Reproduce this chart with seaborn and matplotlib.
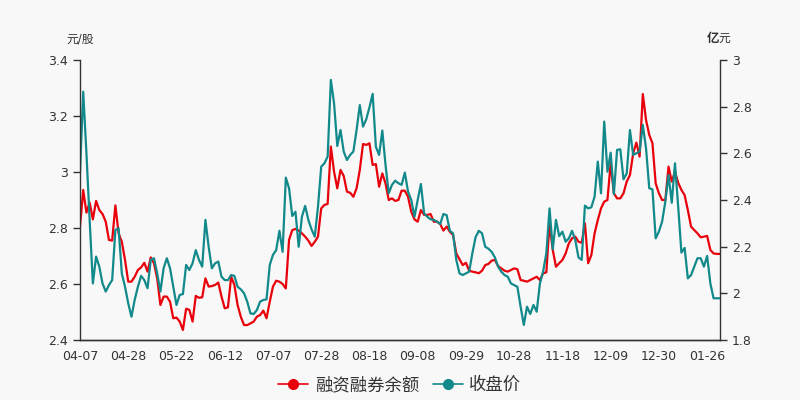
import matplotlib
matplotlib.use("Agg")
import matplotlib.pyplot as plt
from matplotlib.lines import Line2D
import numpy as np
import pandas as pd
import seaborn as sns

# x tick labels (every 15 trading days)
date_ticks = ['04-07', '04-28', '05-22', '06-12', '07-07', '07-28', '08-18',
              '09-08', '09-29', '10-28', '11-18', '12-09', '12-30', '01-26']

# 收盘价 (元/股)
close_price = [
    2.995, 3.287, 3.067, 2.829, 2.602, 2.698, 2.662, 2.602, 2.573, 2.596,
    2.614, 2.793, 2.799, 2.638, 2.59, 2.531, 2.483, 2.543, 2.59, 2.629,
    2.614, 2.585, 2.686, 2.692, 2.638, 2.573, 2.656, 2.692, 2.656, 2.59,
    2.525, 2.561, 2.564, 2.668, 2.65, 2.674, 2.721, 2.686, 2.662, 2.829,
    2.733, 2.656, 2.674, 2.68, 2.626, 2.614, 2.614, 2.632, 2.629, 2.59,
    2.581, 2.567, 2.537, 2.495, 2.493, 2.507, 2.537, 2.543, 2.545, 2.668,
    2.704, 2.721, 2.79, 2.715, 2.98, 2.942, 2.843, 2.858, 2.733, 2.84,
    2.879, 2.829, 2.795, 2.769, 2.876, 3.019, 3.031, 3.055, 3.329, 3.245,
    3.093, 3.15, 3.073, 3.043, 3.061, 3.073, 3.15, 3.239, 3.162, 3.188,
    3.231, 3.279, 3.09, 3.061, 3.148, 3.025, 2.924, 2.954, 2.969, 2.96,
    2.954, 2.998, 2.93, 2.90, 2.84, 2.90, 2.957, 2.852, 2.84, 2.831,
    2.829, 2.823, 2.814, 2.85, 2.846, 2.79, 2.781, 2.686, 2.638, 2.632,
    2.638, 2.644, 2.71, 2.767, 2.79, 2.781, 2.733, 2.726, 2.715, 2.695,
    2.662, 2.644, 2.632, 2.626, 2.602, 2.596, 2.59, 2.519, 2.454, 2.519,
    2.493, 2.525, 2.501, 2.602, 2.644, 2.71, 2.87, 2.724, 2.829, 2.771,
    2.787, 2.751, 2.763, 2.79, 2.757, 2.695, 2.686, 2.88, 2.87, 2.874,
    2.912, 3.037, 2.924, 3.18, 3.001, 3.069, 2.921, 3.079, 3.081, 2.974,
    2.995, 3.15, 3.061, 3.067, 3.073, 3.168, 3.085, 2.942, 2.938, 2.763,
    2.787, 2.823, 2.894, 2.989, 2.89, 3.031, 2.876, 2.712, 2.729, 2.62,
    2.632, 2.662, 2.692, 2.692, 2.662, 2.70, 2.602, 2.549, 2.549, 2.549,
]

# 融资融券余额 (亿元)
margin_balance = [
    2.286, 2.443, 2.346, 2.389, 2.317, 2.396, 2.357, 2.34, 2.307, 2.229,
    2.226, 2.377, 2.257, 2.221, 2.143, 2.05, 2.05, 2.071, 2.10, 2.111,
    2.131, 2.093, 2.154, 2.129, 2.064, 1.95, 1.986, 1.986, 1.964, 1.893,
    1.896, 1.879, 1.843, 1.934, 1.929, 1.879, 1.989, 1.981, 1.983, 2.064,
    2.029, 2.031, 2.036, 2.046, 1.986, 1.936, 1.94, 2.071, 2.036, 1.95,
    1.90, 1.864, 1.864, 1.871, 1.879, 1.90, 1.907, 1.926, 1.893, 1.964,
    2.029, 2.054, 2.05, 2.04, 2.021, 2.229, 2.271, 2.276, 2.269, 2.257,
    2.243, 2.226, 2.203, 2.221, 2.243, 2.364, 2.379, 2.383, 2.629, 2.521,
    2.45, 2.529, 2.503, 2.436, 2.431, 2.414, 2.45, 2.529, 2.64, 2.636,
    2.643, 2.55, 2.554, 2.457, 2.514, 2.471, 2.40, 2.407, 2.396, 2.40,
    2.44, 2.44, 2.414, 2.35, 2.317, 2.307, 2.357, 2.336, 2.336, 2.34,
    2.307, 2.307, 2.297, 2.269, 2.286, 2.264, 2.25, 2.171, 2.146, 2.121,
    2.131, 2.097, 2.093, 2.09, 2.086, 2.097, 2.121, 2.126, 2.14, 2.143,
    2.117, 2.107, 2.097, 2.093, 2.10, 2.107, 2.103, 2.057, 2.054, 2.05,
    2.057, 2.064, 2.071, 2.057, 2.086, 2.09, 2.30, 2.186, 2.114, 2.129,
    2.143, 2.171, 2.214, 2.236, 2.243, 2.221, 2.217, 2.30, 2.129, 2.164,
    2.257, 2.314, 2.364, 2.393, 2.40, 2.557, 2.429, 2.407, 2.407, 2.429,
    2.479, 2.507, 2.60, 2.646, 2.586, 2.854, 2.743, 2.679, 2.643, 2.471,
    2.429, 2.40, 2.40, 2.543, 2.479, 2.521, 2.474, 2.443, 2.421, 2.357,
    2.286, 2.271, 2.257, 2.24, 2.243, 2.246, 2.186, 2.171, 2.169, 2.169,
]

left_ticks = [2.4, 2.6, 2.8, 3.0, 3.2, 3.4]
left_labels = ['2.4', '2.6', '2.8', '3', '3.2', '3.4']
right_ticks = [1.8, 2.0, 2.2, 2.4, 2.6, 2.8, 3.0]
right_labels = ['1.8', '2', '2.2', '2.4', '2.6', '2.8', '3']

RED = '#e8000b'
TEAL = '#12898a'
BG = '#f8f8f8'
AX = '#333333'

sns.set_style("white")
plt.rcParams['font.family'] = ['DejaVu Sans', 'Noto Sans CJK SC']
plt.rcParams['axes.unicode_minus'] = False

df = pd.DataFrame({'idx': np.arange(len(close_price)),
                   'close': close_price,
                   'margin': margin_balance})

fig = plt.figure(figsize=(8, 4), dpi=100, facecolor=BG)
ax = fig.add_axes([0.1, 0.15, 0.8, 0.7])
ax.set_facecolor(BG)
ax2 = ax.twinx()

sns.lineplot(data=df, x='idx', y='close', ax=ax, color=TEAL, linewidth=1.6)
sns.lineplot(data=df, x='idx', y='margin', ax=ax2, color=RED, linewidth=1.6)

ax.set_xlim(0, len(close_price) - 1)
ax.set_ylim(2.4, 3.4)
ax2.set_ylim(1.8, 3.0)
ax.set_xticks(range(0, 15 * len(date_ticks), 15))
ax.set_xticklabels(date_ticks)
ax.set_yticks(left_ticks)
ax.set_yticklabels(left_labels)
ax2.set_yticks(right_ticks)
ax2.set_yticklabels(right_labels)
ax.set_xlabel('')
ax.set_ylabel('')
ax2.set_ylabel('')

for a in (ax, ax2):
    a.spines['top'].set_visible(False)
    for s in ('left', 'right', 'bottom'):
        a.spines[s].set_color(AX)
        a.spines[s].set_linewidth(1.0)
    a.tick_params(axis='both', length=5, width=1, color=AX,
                  labelcolor=AX, labelsize=9, direction='out')
ax.spines['right'].set_visible(False)
ax2.spines['left'].set_visible(False)
ax.tick_params(axis='x', pad=2)

# teal line on top of the red one
ax.set_zorder(ax2.get_zorder() + 1)
ax.patch.set_visible(False)
ax2.patch.set_visible(True)
ax2.patch.set_facecolor(BG)

# axis units
fig.text(0.1, 0.902, '元/股', ha='center', va='center', fontsize=8.5, color=AX)
fig.text(0.8985, 0.904, '亿', ha='right', va='center', fontsize=9,
         fontweight='bold', color=AX)
fig.text(0.8985, 0.904, '元', ha='left', va='center', fontsize=8.5, color=AX)

handles = [Line2D([], [], color=RED, marker='o', markersize=7, linewidth=1.2),
           Line2D([], [], color=TEAL, marker='o', markersize=7, linewidth=1.2)]
fig.legend(handles, ['融资融券余额', '收盘价'], loc='center',
           bbox_to_anchor=(0.5, 0.037), ncol=2, frameon=False, fontsize=12.5,
           handlelength=1.7, handletextpad=0.4, columnspacing=0.8,
           labelcolor=AX)

fig.savefig('out.png', dpi=100, facecolor=BG)
